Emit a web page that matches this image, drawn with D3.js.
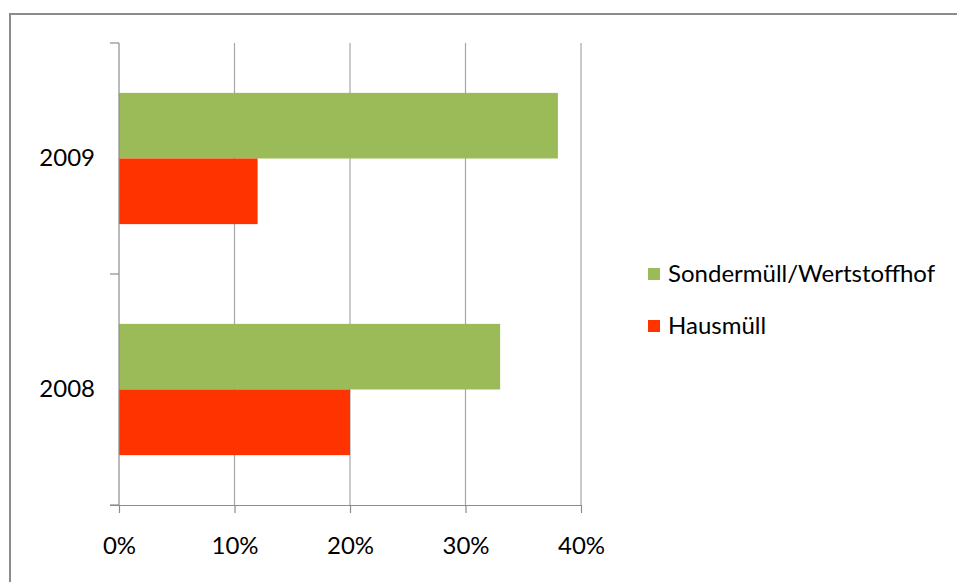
<!DOCTYPE html>
<html>
<head>
<meta charset="utf-8">
<script src="https://cdn.jsdelivr.net/npm/d3@7"></script>
<style>
  body { margin: 0; background: #fff; }
  text { font-family: Lato, "Open Sans", sans-serif; fill: #000; }
</style>
</head>
<body>
<div id="chart"></div>
<script>
const years = ["2009", "2008"]
const seriesNames = ["Sondermüll/Wertstoffhof", "Hausmüll"]
const sondermuell = [0.38, 0.33]
const hausmuell = [0.12, 0.20]
const xTicks = [0, 0.1, 0.2, 0.3, 0.4]
const colors = ["#9bbb59", "#ff3300"]

const width = 957, height = 582
const svg = d3.select("#chart").append("svg")
    .attr("width", width)
    .attr("height", height)

// outer frame
svg.append("rect")
    .attr("x", 10).attr("y", 14)
    .attr("width", 960).attr("height", 600)
    .attr("fill", "none")
    .attr("stroke", "#8c8c8c")
    .attr("stroke-width", 2)

const plotLeft = 119, plotRight = 581, plotTop = 43, plotBottom = 505

const x = d3.scaleLinear().domain([0, 0.4]).range([plotLeft, plotRight])
const y = d3.scaleBand().domain(years).range([plotTop, plotBottom])
const inner = d3.scaleBand().domain(seriesNames).range([0, y.bandwidth()]).paddingOuter(0.76)

// gridlines
svg.append("g").selectAll("line")
    .data(xTicks.slice(1))
    .join("line")
    .attr("x1", d => x(d)).attr("x2", d => x(d))
    .attr("y1", plotTop).attr("y2", plotBottom)
    .attr("stroke", "#a6a6a6")
    .attr("stroke-width", 1.2)

const rows = years.map((yr, i) => [
    { year: yr, series: seriesNames[0], value: sondermuell[i], color: colors[0] },
    { year: yr, series: seriesNames[1], value: hausmuell[i], color: colors[1] }
]).flat()

svg.append("g").selectAll("rect")
    .data(rows)
    .join("rect")
    .attr("x", x(0))
    .attr("y", d => y(d.year) + inner(d.series))
    .attr("width", d => x(d.value) - x(0))
    .attr("height", inner.bandwidth())
    .attr("fill", d => d.color)

// x axis
const xAxis = svg.append("g")
    .attr("transform", `translate(0,${plotBottom})`)
    .call(d3.axisBottom(x).tickValues(xTicks).tickFormat(d3.format(".0%")).tickSizeInner(8).tickSizeOuter(0).tickPadding(24))
xAxis.select(".domain").attr("stroke", "#8c8c8c").attr("stroke-width", 1.2)
    .attr("d", `M${plotLeft - 9},0.5H${plotRight}`)
xAxis.selectAll(".tick line").attr("stroke", "#8c8c8c").attr("stroke-width", 1.2)
xAxis.selectAll(".tick text").style("font-size", "24px").attr("fill", "#000")

// y axis
const yAxis = svg.append("g")
    .attr("transform", `translate(${plotLeft},0)`)
    .call(d3.axisLeft(y).tickSize(0).tickPadding(24))
yAxis.select(".domain").attr("stroke", "#8c8c8c").attr("stroke-width", 1.2)
    .attr("d", `M0,${plotTop}V${plotBottom}`)
yAxis.selectAll(".tick text").style("font-size", "24px").attr("fill", "#000")

// category separator ticks
yAxis.append("g").selectAll("line")
    .data([plotTop, y("2008"), plotBottom])
    .join("line")
    .attr("x1", -9).attr("x2", 0)
    .attr("y1", d => d).attr("y2", d => d)
    .attr("stroke", "#8c8c8c")
    .attr("stroke-width", 1.2)

// legend
const legend = svg.append("g").attr("transform", "translate(648,268)")
const item = legend.selectAll("g")
    .data(seriesNames)
    .join("g")
    .attr("transform", (d, i) => `translate(0,${i * 52})`)
item.append("rect")
    .attr("width", 12).attr("height", 12)
    .attr("fill", (d, i) => colors[i])
item.append("text")
    .attr("x", 20).attr("y", 6)
    .attr("dy", "0.35em")
    .style("font-size", "24px")
    .text(d => d)
</script>
</body>
</html>
